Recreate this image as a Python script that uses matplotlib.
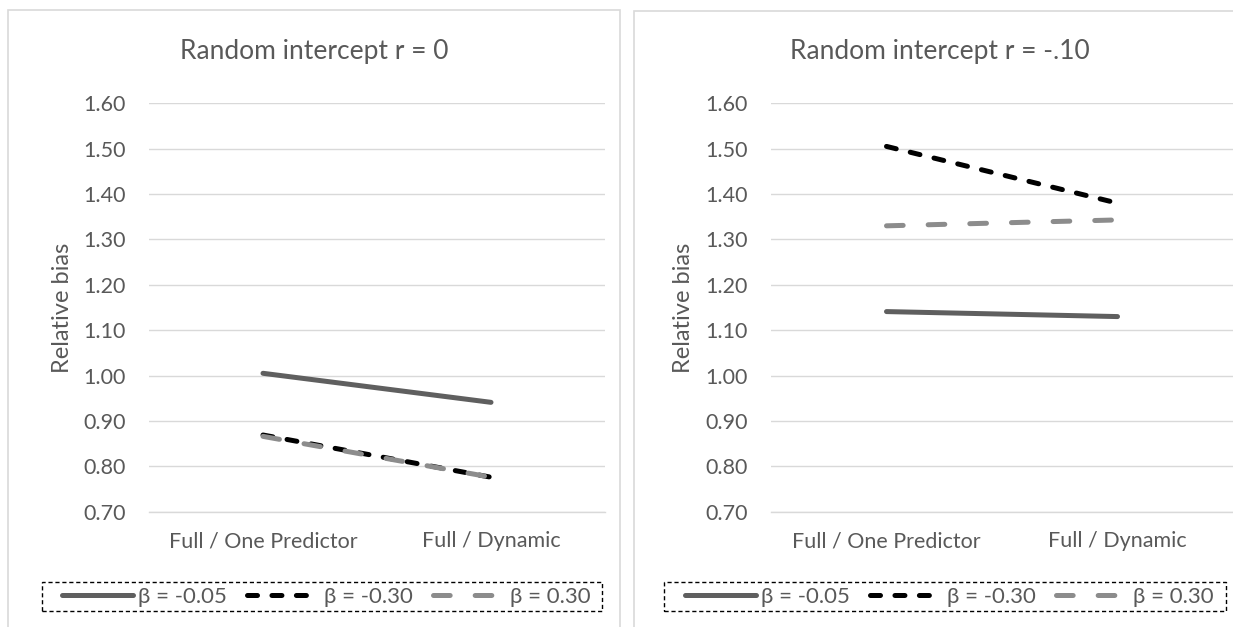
import matplotlib
matplotlib.use("Agg")
import matplotlib.pyplot as plt
from matplotlib.patches import Rectangle

plt.rcParams['font.family'] = ['Lato', 'DejaVu Sans']
plt.rcParams['lines.scale_dashes'] = False

categories = ["Full / One Predictor", "Full / Dynamic"]
series_labels = ["β = -0.05", "β = -0.30", "β = 0.30"]
titles = ["Random intercept r = 0", "Random intercept r = -.10"]

left_b005 = [1.005, 0.941]
left_b030n = [0.869, 0.776]
left_b030p = [0.866, 0.776]

right_b005 = [1.141, 1.130]
right_b030n = [1.505, 1.380]
right_b030p = [1.330, 1.343]

panels = [
    [left_b005, left_b030n, left_b030p],
    [right_b005, right_b030n, right_b030p],
]

yticks = [0.70, 0.80, 0.90, 1.00, 1.10, 1.20, 1.30, 1.40, 1.50, 1.60]

TXT = '#595959'
GRID = '#d9d9d9'
styles = [
    dict(color='#5f5f5f', linestyle='-'),
    dict(color='#000000', linestyle=(0, (7.2, 10.4))),
    dict(color='#8c8c8c', linestyle=(0, (12.0, 18.0))),
]

W, H = 1233, 627
fig = plt.figure(figsize=(W / 100, H / 100), dpi=100)

def fx(px):
    return px / W

def fy(py):
    return 1 - py / H

# chart borders
fig.add_artist(Rectangle((fx(8), fy(660)), fx(612), fy(10) - fy(660), transform=fig.transFigure,
                         fill=False, edgecolor=GRID, linewidth=1.2))
fig.add_artist(Rectangle((fx(634), fy(660)), fx(650), fy(11) - fy(660), transform=fig.transFigure,
                         fill=False, edgecolor=GRID, linewidth=1.2))

ax_specs = [
    dict(left=149, right=605, title_x=314, ylabel_x=73, legend_box=(42, 582, 602, 611)),
    dict(left=771, right=1233, title_x=940, ylabel_x=694, legend_box=(664, 582, 1226, 611)),
]

top_px, bot_px = 103.3, 511.7

for i, (spec, data) in enumerate(zip(ax_specs, panels)):
    ax = fig.add_axes([fx(spec['left']), fy(bot_px), fx(spec['right'] - spec['left']), fy(top_px) - fy(bot_px)])
    x = list(range(len(categories)))
    handles = []
    for vals, st, lab in zip(data, styles, series_labels):
        h, = ax.plot(x, vals, linewidth=3.6, solid_capstyle='round', dash_capstyle='round',
                     label=lab, **st)
        handles.append(h)
    ax.set_xlim(-0.5, 1.5)
    ax.set_ylim(0.70, 1.60)
    ax.set_yticks(yticks)
    ax.set_yticklabels([f"{v:.2f}" for v in yticks])
    ax.set_xticks(x)
    ax.set_xticklabels(categories)
    ax.yaxis.grid(True, color=GRID, linewidth=1.0)
    ax.set_axisbelow(True)
    for s in ['top', 'right', 'left']:
        ax.spines[s].set_visible(False)
    ax.spines['bottom'].set_color(GRID)
    ax.spines['bottom'].set_linewidth(1.0)
    ax.tick_params(axis='both', length=0, colors=TXT, labelsize=15.5)
    ax.tick_params(axis='y', pad=16.5)
    ax.tick_params(axis='x', pad=14)
    ax.set_ylabel("Relative bias", color=TXT, fontsize=17)
    ax.yaxis.set_label_coords((spec['ylabel_x'] - spec['left']) / (spec['right'] - spec['left']), 0.5)
    fig.text(fx(spec['title_x']), fy(51), titles[i], ha='center', va='center', color=TXT, fontsize=19)
    lx0, ly0, lx1, ly1 = spec['legend_box']
    fig.add_artist(Rectangle((fx(lx0), fy(ly1)), fx(lx1 - lx0), fy(ly0) - fy(ly1), transform=fig.transFigure,
                             fill=False, edgecolor='black', linewidth=1.0, linestyle=(0, (3, 2))))
    leg = ax.legend(handles=handles, loc='center', ncol=3,
                    bbox_to_anchor=(fx((lx0 + lx1) / 2 + 4), fy(597)),
                    bbox_transform=fig.transFigure, frameon=False,
                    fontsize=16, handlelength=3.2, handletextpad=0.25, columnspacing=0.9,
                    borderpad=0.0, borderaxespad=0)
    for t in leg.get_texts():
        t.set_color(TXT)

fig.savefig("out.png", dpi=100)
